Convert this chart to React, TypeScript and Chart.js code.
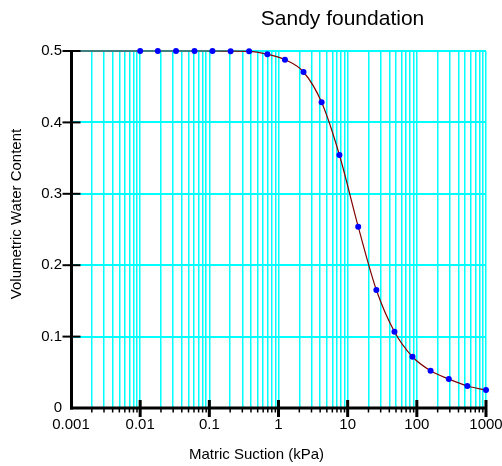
import React, { useEffect, useRef } from "react";
import { Chart, registerables } from "chart.js";

Chart.register(...registerables);

const TITLE = "Sandy foundation";
const X_TITLE = "Matric Suction (kPa)";
const Y_TITLE = "Volumetric Water Content";

// Measured points (matric suction kPa -> volumetric water content)
const suction = [
  0.01, 0.018, 0.033, 0.061, 0.111, 0.203, 0.376, 0.69, 1.24, 2.3,
  4.2, 7.6, 14.2, 26, 47.5, 86.5, 158, 290, 537, 1000,
];
const waterContent = [
  0.5, 0.5, 0.5, 0.5, 0.5, 0.4998, 0.4995, 0.4954, 0.4878, 0.4706,
  0.4282, 0.3543, 0.2539, 0.1653, 0.1069, 0.0718, 0.0522, 0.0406, 0.0308, 0.0252,
];
// Fitted curve starts at the left edge of the axis
const curveSuction = [0.001, ...suction];
const curveWater = [0.5, ...waterContent];

const xDecades = [0.001, 0.01, 0.1, 1, 10, 100, 1000];
const xDecadeLabels = ["0.001", "0.01", "0.1", "1", "10", "100", "1000"];
const minorMultipliers = [2, 3, 4, 5, 6, 7, 8, 9];
const yTicks = [0, 0.1, 0.2, 0.3, 0.4, 0.5];
const yTickLabels = ["0", "0.1", "0.2", "0.3", "0.4", "0.5"];

const FONT = '"Liberation Sans", Arial, Helvetica, sans-serif';
const CYAN = "#00FFFF";

const minorValues: number[] = [];
xDecades.slice(0, -1).forEach((d) => minorMultipliers.forEach((m) => minorValues.push(d * m)));
const xTickValues: number[] = [];
xDecades.slice(0, -1).forEach((d) => {
  xTickValues.push(d);
  minorMultipliers.forEach((m) => xTickValues.push(d * m));
});
xTickValues.push(xDecades[xDecades.length - 1]);

const axesPlugin = {
  id: "customAxes",
  afterDraw(chart: any) {
    const { ctx, scales } = chart;
    const xs = scales.x;
    const ys = scales.y;
    const x0 = xs.getPixelForValue(xDecades[0]);
    const xR = xs.getPixelForValue(xDecades[xDecades.length - 1]);
    const y0 = ys.getPixelForValue(0);
    const yTop = ys.getPixelForValue(0.5);
    const seg = (a: number, b: number, c: number, d: number) => {
      ctx.beginPath();
      ctx.moveTo(a, b);
      ctx.lineTo(c, d);
      ctx.stroke();
    };
    ctx.save();
    ctx.strokeStyle = "#000";
    ctx.lineCap = "butt";
    // minor ticks on x axis
    ctx.lineWidth = 1.5;
    minorValues.forEach((v) => {
      const px = xs.getPixelForValue(v);
      seg(px, y0, px, y0 + 4.5);
    });
    // axis lines
    ctx.lineWidth = 3;
    seg(x0 + 0.5, yTop, x0 + 0.5, y0 + 1.5);
    seg(x0 - 1, y0, xR + 1, y0);
    // y major ticks
    ctx.lineWidth = 2;
    yTicks.slice(1).forEach((v) => {
      const py = ys.getPixelForValue(v);
      seg(x0 - 8.5, py, x0 + 9.5, py);
    });
    // x major ticks
    ctx.lineWidth = 3;
    xDecades.slice(1).forEach((v) => {
      const px = xs.getPixelForValue(v);
      seg(px, y0 - 8, px, y0 + 9);
    });
    // titles
    ctx.fillStyle = "#000";
    ctx.textAlign = "center";
    ctx.textBaseline = "alphabetic";
    ctx.font = `21px ${FONT}`;
    ctx.fillText(TITLE, 342.5, 25);
    ctx.font = `15px ${FONT}`;
    ctx.fillText(X_TITLE, 256.5, 459);
    ctx.save();
    ctx.translate(20.5, 214);
    ctx.rotate(-Math.PI / 2);
    ctx.fillText(Y_TITLE, 0, 0);
    ctx.restore();
    ctx.restore();
  },
};

export default function App() {
  const ref = useRef<HTMLCanvasElement | null>(null);
  useEffect(() => {
    if (!ref.current) return;
    const chart = new Chart(ref.current, {
      type: "scatter",
      data: {
        datasets: [
          {
            label: "Measured",
            data: suction.map((x, i) => ({ x, y: waterContent[i] })),
            showLine: false,
            pointRadius: 3,
            pointHoverRadius: 3,
            pointBackgroundColor: "#0000FF",
            pointBorderWidth: 0,
            clip: false as any,
            order: 1,
          },
          {
            label: "Fit",
            data: curveSuction.map((x, i) => ({ x, y: curveWater[i] })),
            showLine: true,
            borderColor: "#800000",
            borderWidth: 1.2,
            pointRadius: 0,
            cubicInterpolationMode: "monotone",
            clip: false as any,
            order: 2,
          },
        ],
      },
      options: {
        responsive: false,
        animation: false,
        devicePixelRatio: 1,
        layout: { padding: { top: 51, right: 16, bottom: 0, left: 0 } },
        plugins: {
          legend: { display: false },
          title: { display: false },
          tooltip: { enabled: false },
        },
        scales: {
          x: {
            type: "logarithmic",
            min: 0.001,
            max: 1000,
            afterBuildTicks: (scale: any) => {
              scale.ticks = xTickValues.map((v) => ({ value: v, major: xDecades.includes(v) }));
            },
            afterFit: (scale: any) => {
              scale.height = 58;
              scale.paddingLeft = 0;
              scale.paddingRight = 0;
            },
            ticks: {
              autoSkip: false,
              maxRotation: 0,
              minRotation: 0,
              padding: 8,
              color: "#000",
              font: { family: FONT, size: 15 },
              callback: (value: any) => {
                const idx = xDecades.indexOf(Number(value));
                return idx >= 0 ? xDecadeLabels[idx] : "";
              },
            },
            grid: {
              drawTicks: false,
              lineWidth: 1.5,
              color: (c: any) => (c.tick && c.tick.value <= 0.001 ? "rgba(0,0,0,0)" : CYAN),
            },
            border: { display: false },
          },
          y: {
            type: "linear",
            min: 0,
            max: 0.5,
            afterBuildTicks: (scale: any) => {
              scale.ticks = yTicks.map((v) => ({ value: v }));
            },
            afterFit: (scale: any) => {
              scale.width = 71;
              scale.paddingTop = 0;
              scale.paddingBottom = 0;
            },
            ticks: {
              padding: 9,
              color: "#000",
              font: { family: FONT, size: 15 },
              callback: (value: any) => {
                const idx = yTicks.indexOf(Number(value));
                return idx >= 0 ? yTickLabels[idx] : "";
              },
            },
            grid: {
              drawTicks: false,
              lineWidth: 2,
              color: (c: any) => (c.tick && c.tick.value === 0 ? "rgba(0,0,0,0)" : CYAN),
            },
            border: { display: false },
          },
        },
      },
      plugins: [axesPlugin],
    } as any);
    return () => chart.destroy();
  }, []);
  return (
    <div style={{ position: "fixed", left: 0, top: 0, width: 502, height: 466, background: "#fff" }}>
      <canvas ref={ref} width={502} height={466} style={{ display: "block" }} />
    </div>
  );
}
